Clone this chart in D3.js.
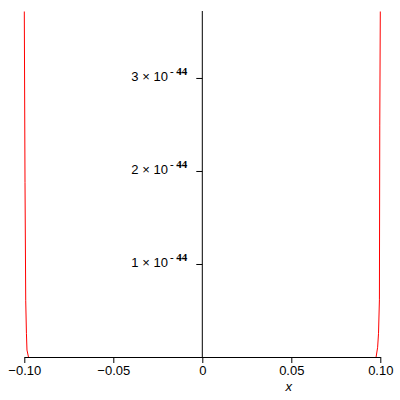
<!DOCTYPE html>
<html><head><meta charset="utf-8">
<script src="https://cdn.jsdelivr.net/npm/d3@7"></script>
<style>body{margin:0;background:#fff}svg{display:block}</style>
</head><body>
<svg id="c" width="400" height="400"></svg>
<script>
// data (y in units of 1e-44)
const leftX = [-0.1, -0.0996, -0.0992, -0.0988, -0.0985, -0.0976, -0.05, 0];
const leftY = [3.72, 1.88, 0.61, 0.26, 0.08, 0.0, 0.0, 0.0];
const rightX = [0, 0.05, 0.0976, 0.0985, 0.0990, 0.0995, 0.0997, 0.1];
const rightY = [0.0, 0.0, 0.0, 0.11, 0.26, 0.62, 2.49, 3.72];
const xMajor = [-0.1, -0.05, 0, 0.05, 0.1];
const xLabels = ["\u22120.10", "\u22120.05", "0", "0.05", "0.10"];
const yMajor = [1, 2, 3];
const yLabels = ["1", "2", "3"];
const yExp = "- 44";

const svg = d3.select("#c");
const x = d3.scaleLinear().domain([-0.1, 0.1]).range([24.3, 380.3]);
const y = d3.scaleLinear().domain([0, 3.72]).range([357, 11]);

const pts = leftX.map((v,i)=>[v,leftY[i]]).concat(rightX.map((v,i)=>[v,rightY[i]]));
svg.append("path").datum(pts)
  .attr("transform","translate(0,0.5)")
  .attr("d", d3.line().x(d=>x(d[0])).y(d=>y(d[1])))
  .attr("fill","none").attr("stroke","#ff0000").attr("stroke-width",1);

const x0 = x(0);
// x axis
const xg = svg.append("g").attr("transform",`translate(0,${y(0)})`);
xg.call(d3.axisBottom(x).tickValues(d3.range(-10,11).map(i=>i/100)).tickSize(3).tickFormat("").tickSizeOuter(0));
xg.call(d3.axisBottom(x).tickValues(xMajor).tickSize(6).tickFormat((d,i)=>xLabels[i]).tickSizeOuter(0));
xg.selectAll("path").attr("stroke","#000");
xg.selectAll("line").attr("stroke","#000");
xg.selectAll("text").attr("font-family","Liberation Sans, Arial, sans-serif").attr("font-size","13px").attr("fill","#000").attr("dy","0.95em").attr("y",6);
svg.append("text").attr("x",x(0.05)-2.5).attr("y",391).attr("text-anchor","middle").attr("font-family","Liberation Sans, Arial, sans-serif")
  .attr("font-style","italic").attr("font-size","13px").text("x");

// y axis
const yg = svg.append("g").attr("transform",`translate(${x0},0)`);
yg.call(d3.axisLeft(y).tickValues([0.5,1.5,2.5,3.5]).tickSize(3).tickFormat("").tickSizeOuter(0));
yg.call(d3.axisLeft(y).tickValues(yMajor).tickSize(6).tickFormat("").tickSizeOuter(0));
yg.selectAll("path").remove();
yg.selectAll("line").attr("stroke","#000");
svg.append("line").attr("x1",x0).attr("x2",x0).attr("y1",y(3.72)).attr("y2",y(0)).attr("stroke","#000");

yMajor.forEach((v,i)=>{
  const t = svg.append("text").attr("x", x0-15).attr("y", y(v)+3.5).attr("text-anchor","end")
    .attr("font-family","Liberation Sans, Arial, sans-serif").attr("font-size","13px").attr("fill","#000");
  t.append("tspan").text(yLabels[i] + " \u00d7 10");
  t.append("tspan").attr("dy",-6).attr("dx",2).attr("font-family","Liberation Serif, Times New Roman, serif")
    .attr("font-weight","bold").attr("font-size","11px").text(yExp);
});
</script>
</body></html>
